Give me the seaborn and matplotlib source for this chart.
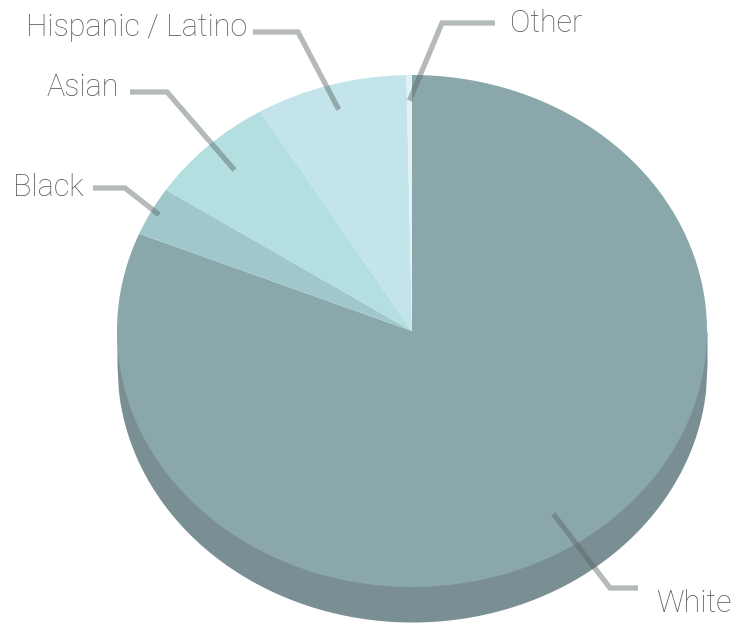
import numpy as np
import matplotlib.pyplot as plt
import seaborn as sns

# share of population by group (percent), clockwise from 12 o'clock
groups = ["White", "Black", "Asian", "Hispanic / Latino", "Other"]
shares = [81.2, 3.1, 7.1, 8.3, 0.3]
colors = ["#8aa8ab", "#a0c8cc", "#b3dfe0", "#c3e4ea", "#e2f2f4"]
side_color = "#7a8f93"

# geometry of the fake 3d disc, in pixels of a 740x626 canvas
W, H = 740, 626
cx, cy = 412, 331
rx, ry = 295, 256
depth = 35

# label layout: (text anchor px, elbow px, end of horizontal px, radial fraction, ha)
label_layout = {
    "White": ((656, 603), (610, 588), (638, 588), 0.86, "left"),
    "Black": ((84, 187), (125, 188), (93, 188), 0.97, "right"),
    "Asian": ((119, 87), (167, 92), (130, 92), 0.87, "right"),
    "Hispanic / Latino": ((247, 27), (298, 32), (253, 32), 0.90, "right"),
    "Other": ((510, 23), (442, 23), (495, 23), 0.90, "left"),
}


def px(x, y):
    return (x - cx) / rx, (cy - y) / ry


sns.set_theme(style="white")
plt.rcParams["font.family"] = ["Roboto", "DejaVu Sans"]

fig = plt.figure(figsize=(W / 100, H / 100), dpi=100)
ax = fig.add_axes([0, 0, 1, 1])

# side of the disc
d = depth / ry
xs = np.linspace(-1, 1, 400)
ax.fill_between(xs, 0, -np.sqrt(1 - xs ** 2) - d, color=side_color, lw=0, zorder=1)

wedges, _ = ax.pie(shares, colors=colors, startangle=90, counterclock=False,
                   radius=1, center=(0, 0), frame=True,
                   wedgeprops=dict(linewidth=0))
for w in wedges:
    w.set_zorder(2)
ax.set_aspect("auto")
ax.set_xlim(px(0, 0)[0], px(W, 0)[0])
ax.set_ylim(px(0, H)[1], px(0, 0)[1])
ax.axis("off")

for name, w in zip(groups, wedges):
    (tx, ty), (ex, ey), (hx, hy), frac, ha = label_layout[name]
    mid = np.deg2rad((w.theta1 + w.theta2) / 2)
    inner = (frac * np.cos(mid), frac * np.sin(mid))
    pts = [inner, px(ex, ey), px(hx, hy)]
    ax.plot([p[0] for p in pts], [p[1] for p in pts], color="#5a6464", alpha=0.45,
            lw=3.8, solid_joinstyle="miter", solid_capstyle="butt", zorder=3)
    ax.text(*px(tx, ty), name, ha=ha, va="center", fontsize=22, color="#585d60",
            fontweight="light", zorder=4)

fig.savefig("out.png", dpi=100)
